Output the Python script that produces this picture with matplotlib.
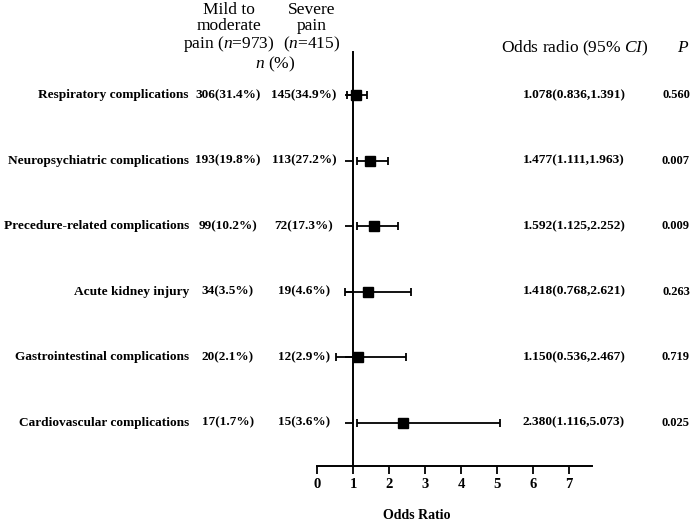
import numpy as np
import matplotlib.pyplot as plt
from matplotlib.transforms import blended_transform_factory

plt.rcParams['font.family'] = ['Liberation Serif', 'DejaVu Serif']
plt.rcParams['mathtext.fontset'] = 'custom'
plt.rcParams['mathtext.rm'] = 'Liberation Serif'
plt.rcParams['mathtext.it'] = 'Liberation Serif:italic'

# data (top row first)
outcomes = ["Respiratory complications", "Neuropsychiatric complications",
            "Precedure-related complications", "Acute kidney injury",
            "Gastrointestinal complications", "Cardiovascular complications"]
mild_n = ["306(31.4%)", "193(19.8%)", "99(10.2%)", "34(3.5%)", "20(2.1%)", "17(1.7%)"]
severe_n = ["145(34.9%)", "113(27.2%)", "72(17.3%)", "19(4.6%)", "12(2.9%)", "15(3.6%)"]
odds = np.array([1.078, 1.477, 1.592, 1.418, 1.150, 2.380])
ci_low = np.array([0.836, 1.111, 1.125, 0.768, 0.536, 1.116])
ci_high = np.array([1.391, 1.963, 2.252, 2.621, 2.467, 5.073])
p_vals = ["0.560", "0.007", "0.009", "0.263", "0.719", "0.025"]

W, H = 700, 530
fig = plt.figure(figsize=(7, 5.3), dpi=100)
# axes: x=0 at 317px, right end 592px; bottom spine 466px, top 52px
ax = fig.add_axes([317 / W, 1 - 466 / H, (592 - 317) / W, (466 - 52) / H])

ypos = np.arange(len(outcomes), 0, -1)
ax.errorbar(odds, ypos, xerr=[odds - ci_low, ci_high - odds], fmt='s',
            color='black', ms=7, elinewidth=1.3, capsize=3, capthick=1.3)

ax.set_xlim(0, 7.64)
ax.set_ylim(0.34, 6.66)
ax.spines['left'].set_position(('data', 1))
ax.spines['top'].set_visible(False)
ax.spines['right'].set_visible(False)
for s in ['left', 'bottom']:
    ax.spines[s].set_linewidth(1.4)
ax.set_yticks(ypos)
ax.set_yticklabels([])
ax.tick_params(axis='y', length=6, width=1.3, direction='out')
ax.set_xticks(range(0, 8))
ax.tick_params(axis='x', length=6, width=1.3, direction='out', pad=3)
for lbl in ax.get_xticklabels():
    lbl.set_fontweight('bold')
    lbl.set_fontsize(10.5)
ax.set_xlabel("Odds Ratio", fontweight='bold', fontsize=10)
ax.xaxis.set_label_coords((417 - 317) / (592 - 317), -0.105)

tr = blended_transform_factory(fig.transFigure, ax.transData)
for i, y in enumerate(ypos):
    ax.text(189 / W, y, outcomes[i], transform=tr, ha='right', va='center',
            fontsize=9.6, fontweight='bold')
    ax.text(228 / W, y, mild_n[i], transform=tr, ha='center', va='center',
            fontsize=9.5, fontweight='bold')
    ax.text(304 / W, y, severe_n[i], transform=tr, ha='center', va='center',
            fontsize=9.5, fontweight='bold')
    ax.text(574 / W, y, f"{odds[i]:.3f}({ci_low[i]:.3f},{ci_high[i]:.3f})",
            transform=tr, ha='center', va='center', fontsize=9.6, fontweight='bold')
    ax.text(676 / W, y, p_vals[i], transform=tr, ha='center', va='center',
            fontsize=9, fontweight='bold')

# headers
fig.text(229 / W, 1 - 28 / H, "Mild to\nmoderate\npain ($n$=973)", ha='center',
         va='center', fontsize=12.5, linespacing=1.03)
fig.text(312 / W, 1 - 28 / H, "Severe\npain\n($n$=415)", ha='center',
         va='center', fontsize=12.5, linespacing=1.03)
fig.text(275 / W, 1 - 64 / H, "$n$ (%)", ha='center', va='center', fontsize=12.5)
fig.text(575 / W, 1 - 48 / H, "Odds radio (95% $CI$)", ha='center', va='center',
         fontsize=12.5)
fig.text(683 / W, 1 - 48 / H, "$P$", ha='center', va='center', fontsize=12.5)

fig.savefig("out.png", dpi=100)
